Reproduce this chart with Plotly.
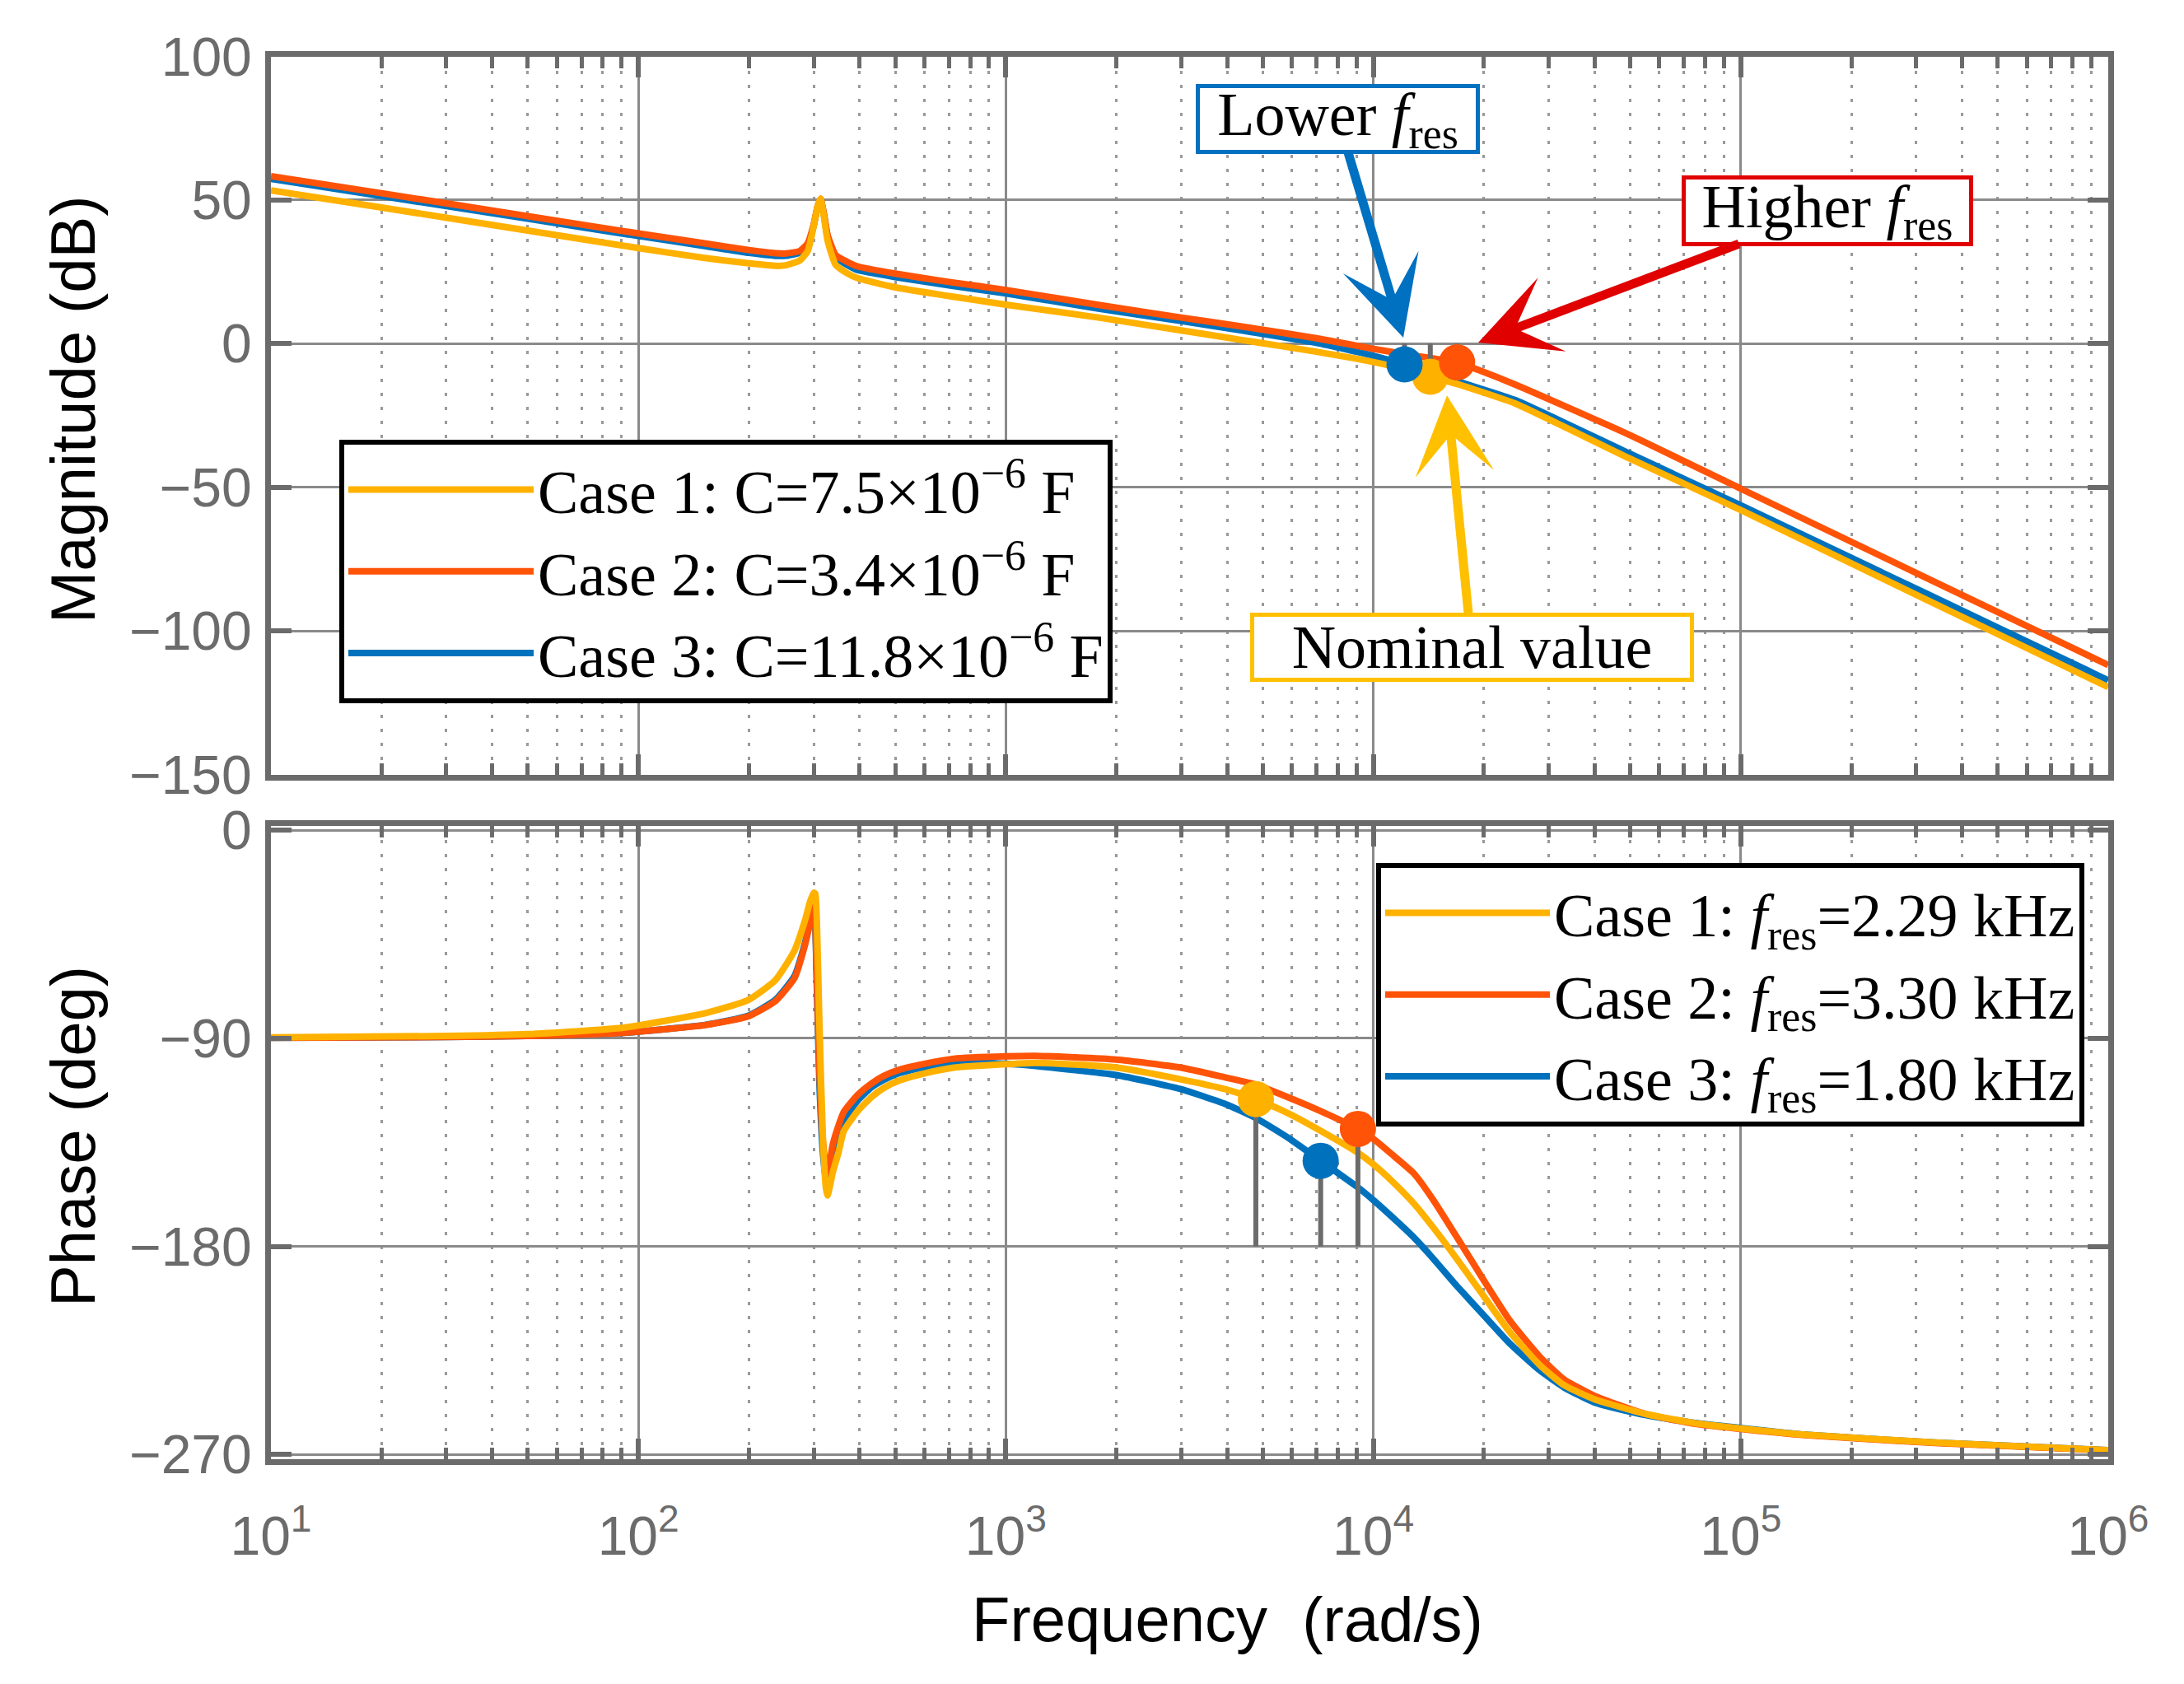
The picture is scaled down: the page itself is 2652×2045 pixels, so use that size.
import plotly.graph_objects as go

W, H = 2652, 2045

# ---- data ---------------------------------------------------------------
# magnitude (dB) vs frequency (rad/s)
freq_mag = [10, 20, 50, 100, 150, 200, 236, 252, 275, 289, 300, 307, 313, 320,
            327, 344, 370, 395, 500, 700, 1000, 1786, 3000, 4385, 7000, 10000,
            12160, 14290, 16860, 19200, 24400, 49500, 100000, 316000, 1000000]
mag_case1 = [53.4, 47.4, 39.4, 33.3, 29.9, 28.0, 27.1, 27.3, 29.0, 32.3, 41.0,
             47.5, 50.5, 44.0, 36.1, 27.5, 24.5, 22.8, 19.6, 16.6, 13.6, 9.1,
             4.6, 1.3, -2.8, -6.4, -8.9, -11.5, -14.0, -16.3, -20.9, -39.8,
             -57.9, -88.8, -119.6]
mag_case2 = [58.3, 52.4, 44.4, 38.4, 35.0, 32.6, 31.5, 31.4, 32.3, 35.0, 41.5,
             47.5, 50.5, 45.0, 38.0, 30.9, 28.5, 26.9, 24.4, 21.5, 18.7, 13.5,
             9.1, 6.0, 1.9, -1.8, -3.6, -5.0, -6.4, -9.0, -14.3, -31.6,
             -50.5, -81.2, -111.9]
mag_case3 = [57.4, 51.4, 43.5, 37.5, 34.1, 31.6, 30.6, 30.6, 31.7, 34.5, 41.2,
             47.3, 50.3, 44.6, 37.5, 30.0, 27.4, 25.6, 23.2, 20.3, 17.5, 12.2,
             7.9, 4.6, 0.3, -4.2, -7.2, -10.3, -13.0, -15.3, -19.7, -38.1,
             -56.3, -86.7, -117.2]

# phase (deg) vs frequency (rad/s)
freq_ph = [10, 30, 50, 91, 153, 199, 236, 266, 284, 293, 300, 303, 306, 311,
           318, 324, 327, 333, 338, 350, 362, 395, 431, 465, 512, 600, 722,
           1000, 1208, 1995, 2981, 3971, 4790, 5860, 7190, 9080, 10000, 11200,
           12900, 14500, 16800, 19860, 23500, 28400, 33000, 40000, 55000,
           75000, 100000, 150000, 346000, 1000000]
ph_case1 = [-89.6, -89.0, -88.2, -85.4, -79.0, -73.4, -64.8, -52.0, -39.0,
            -31.0, -27.0, -27.5, -40.0, -85.0, -135.0, -155.0, -158.0, -153.0,
            -148.0, -139.7, -130.2, -121.5, -115.4, -111.5, -108.3, -105.2,
            -102.7, -101.2, -100.6, -102.6, -107.7, -112.1, -116.3, -122.4,
            -130.0, -139.5, -144.5, -151.5, -161.5, -171.5, -185.0, -201.0,
            -217.0, -231.4, -240.0, -246.2, -252.5, -256.5, -258.8, -261.5,
            -265.0, -268.2]
ph_case2 = [-89.8, -89.4, -89.0, -87.6, -84.2, -80.5, -73.9, -63.9, -49.6,
            -40.0, -33.1, -40.0, -65.0, -105.0, -135.0, -146.0, -148.0, -142.0,
            -136.0, -128.0, -121.9, -114.5, -109.5, -106.3, -103.6, -101.0,
            -98.8, -97.8, -97.6, -99.2, -102.6, -107.0, -110.0, -115.5,
            -121.5, -129.2, -133.5, -140.0, -148.5, -159.5, -175.5, -194.0,
            -212.0, -227.8, -237.5, -244.7, -252.5, -256.8, -259.0, -261.7,
            -265.2, -268.3]
ph_case3 = [-89.8, -89.4, -89.0, -87.6, -84.1, -80.2, -73.3, -63.0, -48.8,
            -39.5, -33.5, -42.0, -68.0, -110.0, -140.0, -151.0, -152.7, -147.0,
            -141.0, -132.0, -125.5, -117.0, -111.2, -108.0, -105.1, -102.5,
            -100.4, -101.0, -102.0, -105.9, -111.9, -118.5, -124.5, -133.0,
            -143.0, -154.5, -160.0, -167.0, -176.2, -185.0, -196.8, -209.4,
            -222.0, -233.7, -241.0, -247.6, -253.0, -256.4, -258.6, -261.5,
            -265.0, -268.2]

# highlighted points
mag_pt_freq = [14290, 16900, 12160]
mag_pt_val = [-11.5, -6.5, -7.2]
ph_pt_freq = [4790, 9080, 7190]
ph_pt_val = [-116.3, -129.2, -143.0]

cases = ['Case 1', 'Case 2', 'Case 3']
cap_labels = ['C=7.5×10<sup>−6</sup> F', 'C=3.4×10<sup>−6</sup> F',
              'C=11.8×10<sup>−6</sup> F']
fres_labels = ['2.29 kHz', '3.30 kHz', '1.80 kHz']

mag_ticks = [-150, -100, -50, 0, 50, 100]
ph_ticks = [-270, -180, -90, 0]
decades = [1, 2, 3, 4, 5, 6]

colors = ['#FFB100', '#FF5308', '#0072BD']
GRAY = '#6b6b6b'
SERIF = 'Liberation Serif'
SANS = 'Liberation Sans'

mags = [mag_case1, mag_case2, mag_case3]
phs = [ph_case1, ph_case2, ph_case3]

fig = go.Figure()

# curves, drawn blue -> orange -> yellow so yellow sits on top
for i in [2, 1, 0]:
    fig.add_trace(go.Scatter(
        x=freq_mag, y=mags[i], mode='lines', xaxis='x', yaxis='y',
        name=f'{cases[i]}: {cap_labels[i]}', legend='legend', legendrank=i,
        line=dict(color=colors[i], width=8, shape='spline', smoothing=0.5),
    ))
    fig.add_trace(go.Scatter(
        x=freq_ph, y=phs[i], mode='lines', xaxis='x2', yaxis='y2',
        name=f'{cases[i]}: <i>f</i><sub>res</sub>={fres_labels[i]}',
        legend='legend2', legendrank=i,
        line=dict(color=colors[i], width=8, shape='spline', smoothing=0.5),
    ))

# stems from the markers
stem_x, stem_y = [], []
for f, v in zip(mag_pt_freq, mag_pt_val):
    stem_x += [f, f, None]
    stem_y += [0, v, None]
fig.add_trace(go.Scatter(x=stem_x, y=stem_y, mode='lines', xaxis='x', yaxis='y',
                         line=dict(color=GRAY, width=6), showlegend=False))
stem_x, stem_y = [], []
for f, v in zip(ph_pt_freq, ph_pt_val):
    stem_x += [f, f, None]
    stem_y += [-180, v, None]
fig.add_trace(go.Scatter(x=stem_x, y=stem_y, mode='lines', xaxis='x2', yaxis='y2',
                         line=dict(color=GRAY, width=6), showlegend=False))

# markers: yellow first, then blue, then orange
for i in [0, 2, 1]:
    fig.add_trace(go.Scatter(x=[mag_pt_freq[i]], y=[mag_pt_val[i]], mode='markers',
                             xaxis='x', yaxis='y', showlegend=False,
                             marker=dict(color=colors[i], size=44)))
    fig.add_trace(go.Scatter(x=[ph_pt_freq[i]], y=[ph_pt_val[i]], mode='markers',
                             xaxis='x2', yaxis='y2', showlegend=False,
                             marker=dict(color=colors[i], size=44)))

# ---- axes ---------------------------------------------------------------
x0, x1 = 321 / W, 2552 / W
minor_vals = [k * 10 ** d for d in range(1, 6) for k in range(2, 10)]

common = dict(
    showline=True, linecolor=GRAY, linewidth=7, mirror='allticks',
    ticks='inside', ticklen=25, tickwidth=6, tickcolor=GRAY,
    showgrid=True, gridcolor='#8a8a8a', gridwidth=3, zeroline=False,
    automargin=False,
    tickfont=dict(family=SANS, size=66, color=GRAY),
)
xcommon = dict(
    common, type='log', range=[1, 6],
    tickvals=[10 ** d for d in decades],
    ticktext=[f'10<sup>{d}</sup>' for d in decades],
    minor=dict(tickvals=minor_vals, ticks='inside', ticklen=14, tickwidth=5,
               tickcolor=GRAY, showgrid=True, gridcolor='#9a9a9a',
               gridwidth=3, griddash='4px,13px'),
)

fig.update_layout(
    xaxis=dict(xcommon, domain=[x0, x1], anchor='y', showticklabels=False),
    yaxis=dict(common, domain=[1 - 932.5 / H, 1 - 60.6 / H], anchor='x',
               range=[-150, 100], tickvals=mag_ticks, ticklabelstandoff=3),
    xaxis2=dict(xcommon, domain=[x0, x1], anchor='y2', ticklabelstandoff=30),
    yaxis2=dict(common, domain=[1 - 1764 / H, 1 - 995 / H], anchor='x2',
                range=[-272.1, 1.9], tickvals=ph_ticks, ticklabelstandoff=3),
)

# ---- legends ------------------------------------------------------------
leg = dict(xanchor='left', yanchor='top', bgcolor='white',
           bordercolor='black', borderwidth=6, tracegroupgap=0,
           font=dict(family=SERIF, size=74, color='black'))
fig.update_layout(
    legend=dict(leg, x=404 / W, y=1 - 526 / H, itemwidth=225),
    legend2=dict(leg, x=1663 / W, y=1 - 1040 / H, itemwidth=200),
)

# ---- titles and call-outs -----------------------------------------------
annots = [
    dict(text='Magnitude (dB)', x=80 / W, y=1 - 489 / H, textangle=-90,
         font=dict(family=SANS, size=76, color='black')),
    dict(text='Phase (deg)', x=80 / W, y=1 - 1372 / H, textangle=-90,
         font=dict(family=SANS, size=76, color='black')),
    dict(text='Frequency  (rad/s)', x=1482 / W, y=1 - 1958 / H,
         font=dict(family=SANS, size=76, color='black')),
]
for a in annots:
    a.update(xref='paper', yref='paper', showarrow=False,
             xanchor='center', yanchor='middle')

callouts = [
    # text, box centre (log10 w, dB), arrow tip (log10 w, dB), box w, h, colour
    ('Lower <i>f</i><sub>res</sub>', 3.9045, 78.1, 4.0816, 2.1, 335, 75, '#0070C0'),
    ('Higher <i>f</i><sub>res</sub>', 5.2347, 46.4, 4.2855, 0.4, 344, 76, '#E00000'),
    ('Nominal value', 4.2676, -105.6, 4.2004, -18.0, 529, 74, '#FFC000'),
]
for text, bx, by, tx, ty, bw, bh, col in callouts:
    annots.append(dict(
        text=text, x=tx, y=ty, ax=bx, ay=by, xref='x', yref='y',
        axref='x', ayref='y', showarrow=True, arrowhead=3, arrowsize=1.45,
        arrowwidth=11, arrowcolor=col, standoff=0,
        width=bw, height=bh, align='center', valign='middle',
        bordercolor=col, borderwidth=5, borderpad=0, bgcolor='white',
        font=dict(family=SERIF, size=74, color='black'),
    ))

fig.update_layout(
    annotations=annots,
    width=W, height=H, autosize=False,
    margin=dict(l=0, r=0, t=0, b=0),
    paper_bgcolor='white', plot_bgcolor='white',
)

fig.write_html("out.html")
